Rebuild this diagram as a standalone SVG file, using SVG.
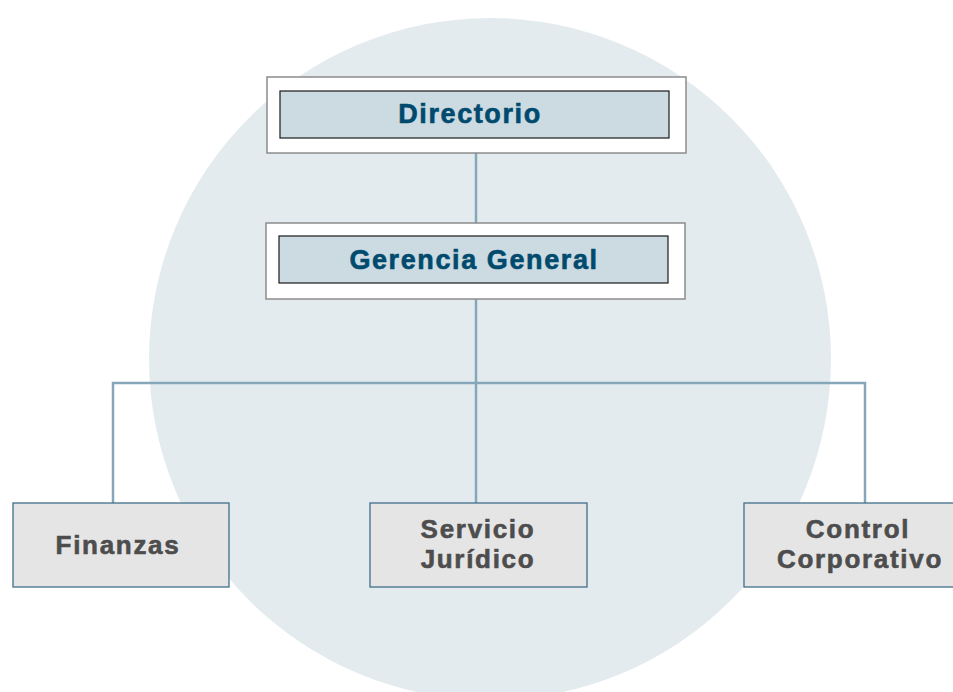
<svg xmlns="http://www.w3.org/2000/svg" width="953" height="692" viewBox="0 0 953 692">
<style>
.top-outer{fill:#ffffff;stroke:#8c8c8c;stroke-width:1.5}
.top-inner{fill:#ccdae2;stroke:#1a1a1a;stroke-width:1.2}
.top-text{font-family:"Liberation Sans",Arial,sans-serif;font-weight:bold;font-size:27px;letter-spacing:1.6px;fill:#004a6e;stroke:#004a6e;stroke-width:0.6;text-anchor:middle}
.unit{fill:#e5e5e5;stroke:#3f6f8a;stroke-width:1.3}
.unit-text{font-family:"Liberation Sans",Arial,sans-serif;font-weight:bold;font-size:26px;letter-spacing:1.7px;fill:#4d4d4d;stroke:#4d4d4d;stroke-width:0.6;text-anchor:middle}
.conn{fill:none;stroke:#86a7ba;stroke-width:2.5}
</style>
<rect width="953" height="692" fill="#ffffff"/>
<circle cx="490" cy="359" r="341" fill="#e4ebef"/>
<g id="connectors">
<line class="conn" x1="476" y1="153" x2="476" y2="223"/>
<line class="conn" x1="476" y1="299" x2="476" y2="503"/>
<polyline class="conn" points="113,503 113,383 865,383 865,503"/>
</g>
<g id="directorio">
<rect class="top-outer" x="267" y="77" width="419" height="76"/>
<rect class="top-inner" x="280" y="91" width="389" height="47"/>
<text class="top-text" x="470" y="123">Directorio</text>
</g>
<g id="gerencia">
<rect class="top-outer" x="266" y="223" width="419" height="76"/>
<rect class="top-inner" x="279" y="236" width="389" height="47"/>
<text class="top-text" x="474" y="269">Gerencia General</text>
</g>
<g id="finanzas">
<rect class="unit" x="13" y="503" width="216" height="84"/>
<text class="unit-text" x="118" y="554">Finanzas</text>
</g>
<g id="servicio">
<rect class="unit" x="370" y="503" width="217" height="84"/>
<text class="unit-text" x="478" y="538">Servicio</text>
<text class="unit-text" x="478" y="568">Jurídico</text>
</g>
<g id="control">
<rect class="unit" x="744" y="503" width="215" height="84"/>
<text class="unit-text" x="858" y="538">Control</text>
<text class="unit-text" x="860" y="568">Corporativo</text>
</g>
</svg>
